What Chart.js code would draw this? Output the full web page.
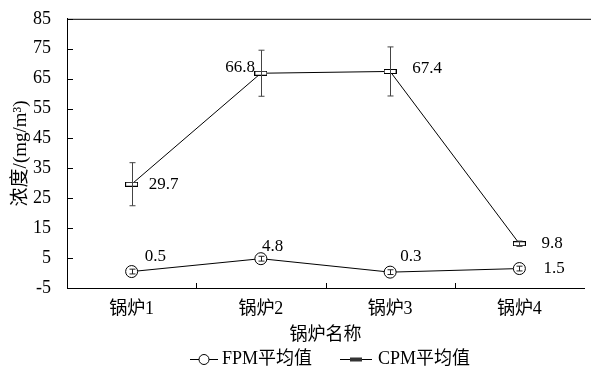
<!DOCTYPE html>
<html>
<head>
<meta charset="utf-8">
<script src="https://cdn.jsdelivr.net/npm/chart.js@4.4.0/dist/chart.umd.min.js"></script>
<style>
  html, body { margin: 0; padding: 0; background: #fff; }
  canvas { display: block; }
</style>
</head>
<body>
<canvas id="chart" width="591" height="378"></canvas>
<script>
const boilers = ['锅炉1', '锅炉2', '锅炉3', '锅炉4'];
const fpmMean = [0.5, 4.8, 0.3, 1.5];
const fpmErr = [0.8, 0.8, 0.8, 0.8];
const cpmMean = [29.7, 66.8, 67.4, 9.8];
const cpmErr = [7.2, 7.7, 8.2, 0.9];
const yTicks = [-5, 5, 15, 25, 35, 45, 55, 65, 75, 85];

const serif = "'Liberation Serif', 'Times New Roman', 'Noto Sans CJK SC', serif";

// flat rectangle marker for the CPM series
function rectMarker(fill) {
  const c = document.createElement('canvas');
  c.width = 13; c.height = 5;
  const g = c.getContext('2d');
  g.fillStyle = fill;
  g.fillRect(0.5, 0.5, 12, 4);
  g.strokeStyle = '#000';
  g.lineWidth = 1;
  g.strokeRect(0.5, 0.5, 12, 4);
  return c;
}

// label offsets (px) for the value tags next to each point
const fpmLabelPos = [[13, -15, 'left'], [1, -12, 'left'], [10, -16, 'left'], [24, 0, 'left']];
const cpmLabelPos = [[17, 0, 'left'], [-6, -6, 'right'], [22, -3, 'left'], [22, 0, 'left']];

const extras = {
  id: 'extras',
  afterDatasetsDraw(chart) {
    const {ctx, scales: {x, y}} = chart;
    ctx.save();
    // error bars
    const sets = [[cpmMean, cpmErr, '#444'], [fpmMean, fpmErr, '#222']];
    sets.forEach(([mean, err, col]) => {
      ctx.strokeStyle = col;
      ctx.lineWidth = 1;
      mean.forEach((v, i) => {
        const px = Math.round(x.getPixelForValue(i)) + 0.5;
        const top = y.getPixelForValue(v + err[i]);
        const bot = y.getPixelForValue(v - err[i]);
        ctx.beginPath();
        ctx.moveTo(px, top); ctx.lineTo(px, bot);
        ctx.moveTo(px - 3, top); ctx.lineTo(px + 3, top);
        ctx.moveTo(px - 3, bot); ctx.lineTo(px + 3, bot);
        ctx.stroke();
      });
    });
    // value labels
    ctx.fillStyle = '#000';
    ctx.font = '17px ' + serif;
    ctx.textBaseline = 'middle';
    [[fpmMean, fpmLabelPos], [cpmMean, cpmLabelPos]].forEach(([mean, pos]) => {
      mean.forEach((v, i) => {
        const px = x.getPixelForValue(i);
        const py = y.getPixelForValue(v);
        ctx.textAlign = pos[i][2];
        ctx.fillText(v.toFixed(1), px + pos[i][0], py + pos[i][1]);
      });
    });
    ctx.restore();
  },
  afterDraw(chart) {
    const {ctx, chartArea: a, scales: {x, y}} = chart;
    ctx.save();
    ctx.strokeStyle = '#000';
    ctx.lineWidth = 1;
    ctx.beginPath();
    // top frame line
    ctx.moveTo(a.left, a.top + 0.5); ctx.lineTo(591, a.top + 0.5);
    // inward y ticks
    yTicks.forEach(t => {
      const py = Math.round(y.getPixelForValue(t)) + 0.5;
      ctx.moveTo(a.left, py); ctx.lineTo(a.left + 6, py);
    });
    // inward x ticks between categories
    for (let i = 0; i < boilers.length - 1; i++) {
      const px = Math.round((x.getPixelForValue(i) + x.getPixelForValue(i + 1)) / 2) + 0.5;
      ctx.moveTo(px, a.bottom); ctx.lineTo(px, a.bottom - 5);
    }
    ctx.stroke();

    // axis titles
    ctx.fillStyle = '#000';
    ctx.textAlign = 'center';
    ctx.textBaseline = 'middle';
    ctx.font = '18px ' + serif;
    ctx.fillText('锅炉名称', (a.left + a.right) / 2, 335);
    ctx.save();
    ctx.font = '19px ' + serif;
    ctx.translate(21, (a.top + a.bottom) / 2);
    ctx.rotate(-Math.PI / 2);
    ctx.fillText('浓度/(mg/m³)', 0, 0);
    ctx.restore();

    // legend
    const ly = 359.5;
    ctx.beginPath();
    ctx.moveTo(190, ly); ctx.lineTo(218, ly);
    ctx.moveTo(340, ly); ctx.lineTo(372, ly);
    ctx.stroke();
    ctx.beginPath();
    ctx.arc(204, ly, 5, 0, Math.PI * 2);
    ctx.fillStyle = '#fff';
    ctx.fill();
    ctx.stroke();
    ctx.fillStyle = '#333';
    ctx.fillRect(350, ly - 2, 12, 4);
    ctx.fillStyle = '#000';
    ctx.textAlign = 'left';
    ctx.font = '18px ' + serif;
    ctx.fillText('FPM平均值', 222, ly);
    ctx.fillText('CPM平均值', 378, ly);
    ctx.restore();
  }
};

new Chart(document.getElementById('chart'), {
  type: 'line',
  data: {
    labels: boilers,
    datasets: [
      {
        label: 'FPM平均值',
        data: fpmMean,
        borderColor: '#000',
        borderWidth: 1,
        pointStyle: 'circle',
        pointRadius: 6,
        pointBackgroundColor: '#fff',
        pointBorderColor: '#000',
        pointBorderWidth: 1
      },
      {
        label: 'CPM平均值',
        data: cpmMean,
        borderColor: '#000',
        borderWidth: 1,
        pointStyle: rectMarker('#fff'),
        pointRadius: 6
      }
    ]
  },
  options: {
    responsive: false,
    animation: false,
    layout: { padding: { left: 0, right: 2, top: 11, bottom: 0 } },
    plugins: { legend: { display: false }, tooltip: { enabled: false } },
    scales: {
      x: {
        offset: true,
        grid: { display: false },
        border: { display: true, color: '#000', width: 1 },
        ticks: { color: '#000', padding: 2, font: { family: serif, size: 18 } },
        afterFit(s) { s.height = 90; }
      },
      y: {
        min: -5,
        max: 85,
        grid: { display: false },
        border: { display: true, color: '#000', width: 1 },
        ticks: { stepSize: 10, color: '#000', padding: 8, font: { family: serif, size: 18 } },
        afterFit(s) { s.width = 67; }
      }
    }
  },
  plugins: [extras]
});
</script>
</body>
</html>
